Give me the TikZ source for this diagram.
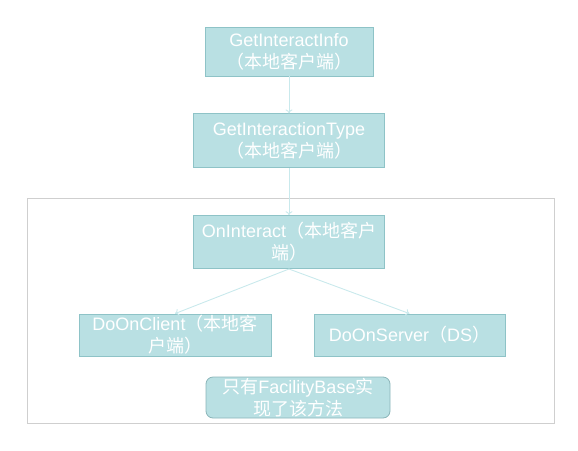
\documentclass[tikz,border=0pt]{standalone}
\usepackage{fontspec}
\setmainfont{Liberation Sans}
\newfontfamily\cjk[Scale=1.0]{Noto Sans CJK SC}
\usepackage{tikz}
\usetikzlibrary{arrows.meta,positioning}
\definecolor{boxfill}{HTML}{B9E0E3}
\definecolor{boxline}{HTML}{8EC3C7}
\definecolor{arrowcol}{HTML}{C9E9EC}
\definecolor{framecol}{HTML}{CFCFCF}

\begin{document}
\begin{tikzpicture}[
    x=1pt, y=-1pt,
    font=\fontsize{18}{22}\selectfont,
    node distance=0mm,
    field/.style={draw=boxline, fill=boxfill, text=white, align=center, inner sep=1pt, line width=0.8pt},
    note/.style={field, draw=boxline!80!gray, rounded corners=7pt},
    link/.style={-{To[length=4pt,width=7pt]}, draw=arrowcol, line width=0.9pt}
]
\useasboundingbox (0,0) rectangle (578,450);

% outer frame
\draw[framecol, line width=0.9pt] (27,198) rectangle (554,423);

\node[field, minimum width=168pt, minimum height=49pt] (info) at (289,51.5) {GetInteractInfo\\{\cjk （本地客户端）}};
\node[field, minimum width=191pt, minimum height=54pt, below=37pt of info] (type) {GetInteractionType\\{\cjk （本地客户端）}};
\node[field, minimum width=191pt, minimum height=53pt, below=47pt of type] (inter) {OnInteract{\cjk （本地客户}\\{\cjk 端）}};
\node[field, minimum width=192pt, minimum height=42pt] (client) at (175,335) {DoOnClient{\cjk （本地客}\\{\cjk 户端）}};
\node[field, minimum width=191pt, minimum height=42pt] (server) at (409.5,335) {DoOnServer{\cjk （}DS{\cjk ）}};
\node[note, minimum width=184pt, minimum height=41pt] (base) at (298,397.5) {{\cjk 只有}FacilityBase{\cjk 实}\\{\cjk 现了该方法}};

\draw[link] (info.south) -- (type.north);
\draw[link] (type.south) -- (inter.north);
\draw[link] (inter.south) -- (client.north);
\draw[link] (inter.south) -- (server.north);
\end{tikzpicture}
\end{document}
